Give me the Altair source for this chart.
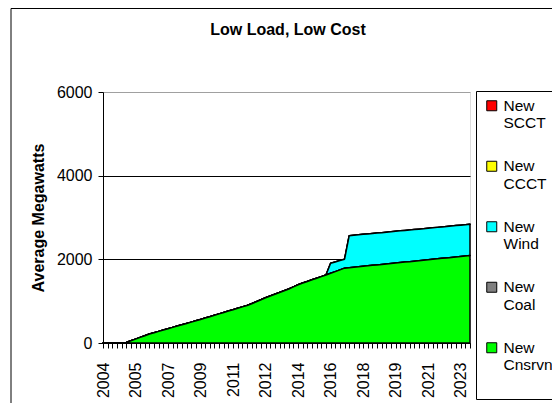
import altair as alt
import pandas as pd

# ---- data ----
chart_title = "Low Load, Low Cost"
quarter = list(range(80))  # 2004Q1 ... 2023Q4
tick_positions = [0, 7, 14, 21, 28, 35, 42, 49, 56, 63, 70, 77]
tick_labels = ["2004", "2005", "2007", "2009", "2011", "2012",
               "2014", "2016", "2018", "2019", "2021", "2023"]

cnsrvn = [0, 0, 0, 0, 0, 12, 52, 93, 134, 175,
          215, 247, 278, 310, 341, 373, 405, 436, 468, 499,
          531, 563, 596, 629, 663, 696, 730, 763, 796, 830,
          863, 896, 937, 985, 1034, 1081, 1123, 1165, 1207, 1249,
          1291, 1341, 1392, 1434, 1472, 1510, 1548, 1586, 1625, 1666,
          1707, 1748, 1789, 1800, 1811, 1822, 1834, 1845, 1856, 1867,
          1878, 1889, 1900, 1912, 1923, 1934, 1945, 1956, 1967, 1978,
          1989, 2001, 2012, 2023, 2034, 2045, 2056, 2067, 2079, 2090]
coal = [0] * 80
wind = [0] * 49 + [240, 230, 222, 214,
                   765, 764, 764, 763, 762, 762, 761, 760, 760, 759,
                   758, 758, 757, 756, 756, 755, 754, 754, 753, 752,
                   752, 751, 750, 750, 749, 749, 748]
ccct = [0] * 80
scct = [0] * 80

series_names = ["New SCCT", "New CCCT", "New Wind", "New Coal", "New Cnsrvn"]
series_colors = ["#ff0000", "#ffff00", "#00ffff", "#808080", "#00ff00"]
series_values = [scct, ccct, wind, coal, cnsrvn]
stack_rank = [4, 3, 2, 1, 0]

rows = []
for name, vals, rank in zip(series_names, series_values, stack_rank):
    for q, v in zip(quarter, vals):
        rows.append({"q": q, "series": name, "value": v, "rank": rank})
df = pd.DataFrame(rows)

FONT = "Liberation Sans"

label_expr = (f"indexof({tick_positions}, datum.value) >= 0 ? "
              f"{tick_labels}[indexof({tick_positions}, datum.value)] : ''")

legend_label_expr = ("datum.label == 'New Cnsrvn' ? ['New', 'Cnsrvn', ''] "
                     ": split(datum.label, ' ')")

areas = alt.Chart(df).mark_area(
    interpolate="linear", opacity=1, fillOpacity=1,
    stroke="black", strokeWidth=1.5, strokeJoin="round",
).encode(
    x=alt.X("q:Q",
            scale=alt.Scale(domain=[0, 79], nice=False, zero=False),
            axis=alt.Axis(values=quarter, labelExpr=label_expr, labelAngle=270,
                          labelOverlap=False, labelFlush=False, labelBound=False,
                          labelFontSize=16, labelFont=FONT, labelColor="black",
                          labelPadding=14, tickSize=5, tickColor="black",
                          domainColor="black", grid=False, title=None)),
    y=alt.Y("value:Q", stack="zero",
            scale=alt.Scale(domain=[0, 6000], nice=False),
            axis=alt.Axis(values=[0, 2000, 4000, 6000], format="d",
                          title="Average Megawatts",
                          titleFont=FONT, titleFontSize=16, titleFontWeight="bold",
                          titleColor="black", titlePadding=10,
                          labelFont=FONT, labelFontSize=16, labelColor="black",
                          labelPadding=6, tickSize=5, tickColor="black",
                          domainColor="black", grid=True,
                          gridColor={"condition": {"test": "datum.value == 6000",
                                                   "value": "#a0a0a0"},
                                     "value": "black"},
                          gridWidth=1)),
    color=alt.Color("series:N",
                    scale=alt.Scale(domain=series_names, range=series_colors),
                    legend=alt.Legend(orient="none", legendX=373, legendY=-1,
                                      title=None, symbolType="square", symbolSize=100,
                                      symbolStrokeColor="black", symbolStrokeWidth=1,
                                      symbolOpacity=1, symbolOffset=1,
                                      labelFont=FONT, labelFontSize=15.5, labelColor="black",
                                      labelExpr=legend_label_expr,
                                      labelBaseline="middle", labelLimit=200,
                                      rowPadding=26.5, padding=7,
                                      strokeColor="black", fillColor="white")),
    order=alt.Order("rank:Q"),
)

frame = alt.Chart(pd.DataFrame({"a": [0]})).mark_rect(
    fill=None, stroke="black", strokeWidth=1
).encode(x=alt.value(-92), x2=alt.value(700), y=alt.value(-83.5), y2=alt.value(500))

title = alt.Chart(pd.DataFrame({"t": [chart_title]})).mark_text(
    font=FONT, fontSize=16, fontWeight="bold", color="black",
    align="center", baseline="middle"
).encode(text="t:N", x=alt.value(185), y=alt.value(-62))

chart = alt.layer(frame, areas, title).properties(
    width=367, height=251,
    autosize=alt.AutoSizeParams(type="none"),
    padding={"left": 95, "top": 84, "right": 82, "bottom": 60},
).configure_view(stroke="#a0a0a0", strokeWidth=1).configure(background="white")

chart.save("out.html", embed_options={"renderer": "svg", "actions": False})
